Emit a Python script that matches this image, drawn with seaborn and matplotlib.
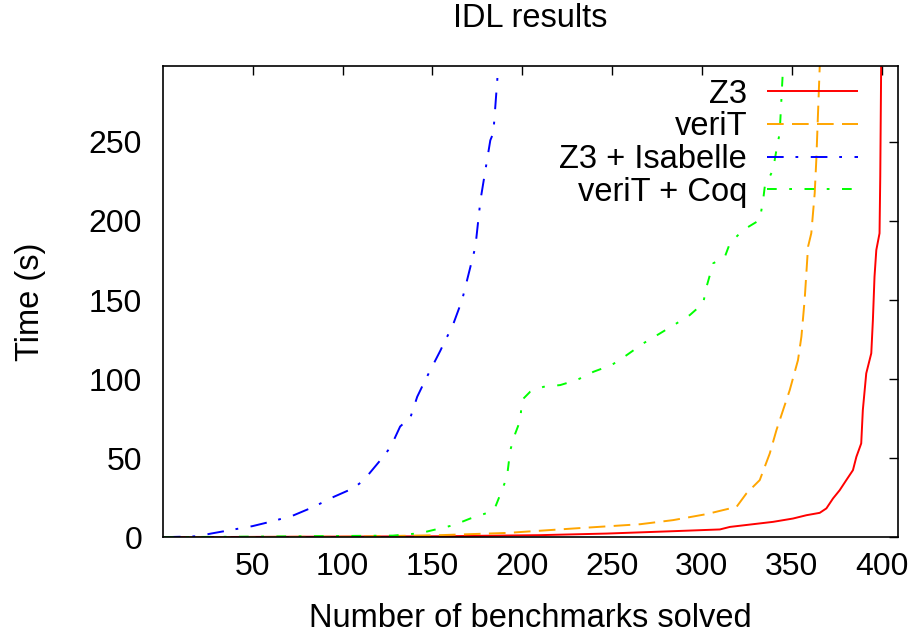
import matplotlib
matplotlib.use('Agg')
import matplotlib.pyplot as plt
import seaborn as sns
import pandas as pd
import numpy as np


# ---------------------------------------------------------------------------
# Data (cumulative: benchmarks solved vs time)
# ---------------------------------------------------------------------------

z3_solved = [0.5, 154.4, 210, 247, 284, 310, 315.6, 339.6, 350.7, 358.2, 365.6,
             369.3, 373, 376.7, 380.4, 384.1, 386, 388.7, 389.6, 391.5, 394.3,
             395.2, 396.1, 397.1, 398.9, 399.3, 399.8, 400]
z3_time = [0, 0.6, 1.3, 2.3, 3.8, 4.9, 6.5, 9.7, 11.8, 13.9, 15.4,
           18.2, 24.5, 29.7, 36.1, 42.4, 50.8, 59.3, 80.4, 103.6, 116.3,
           137.3, 164.7, 181.6, 192.2, 228, 297.7, 310]

verit_solved = [0.5, 104.4, 154.4, 191.5, 228.5, 265.6, 284, 302.6, 319.3, 324.8,
                332.2, 337.8, 341.5, 345.2, 348.9, 353.5, 355.4, 357.2, 359.1,
                360.9, 362.8, 363.7, 365.6, 366]
verit_time = [0, 0.3, 1.3, 2.7, 5.5, 8.2, 10.8, 14.6, 19.2, 27.7,
              36.1, 53, 67.7, 80.4, 93, 112, 126.8, 150, 183.7,
              192.2, 217.5, 238.6, 297.7, 310]

isa_solved = [0.5, 19.4, 26.7, 49.8, 61.7, 72.8, 83.9, 95, 106, 111.7, 121, 126.7,
              132, 137.8, 141.5, 146, 154.4, 157.2, 161, 166.5, 172, 173.9,
              176.7, 180.4, 182.2, 183.9, 186.7, 188]
isa_time = [0, 0.6, 2.3, 7.0, 10.3, 13.9, 19.2, 25.5, 31, 36, 48.7, 57,
            70, 76, 88.8, 99.4, 118, 124.7, 133, 150, 175, 183.7,
            213, 238.6, 251, 255.7, 298.7, 310]

coq_solved = [0.5, 128, 143, 161.7, 171, 182.2, 185, 188.7, 191.5, 193.3, 196.1,
              198.9, 199.8, 204.4, 211.8, 221.1, 230.4, 239.6, 249.8, 258.2,
              267.4, 276.7, 286, 293.3, 300.7, 302.6, 306.3, 312.8, 315.6, 323,
              332.2, 334.1, 335, 339.6, 341.5, 343.3, 345.2, 345.8]
coq_time = [0, 1, 2.5, 7.6, 11.8, 16, 19.2, 29.7, 38.2, 55, 65.6,
            74, 86.7, 92, 95.1, 96.2, 99.4, 104.6, 108.9, 115.2,
            122.6, 128.9, 135.3, 140.5, 147.9, 158.4, 173.2, 177.4, 185.9, 194.3,
            200.6, 213.3, 221.7, 232.3, 244.9, 255.5, 297.7, 308]

labels = ["Z3", "veriT", "Z3 + Isabelle", "veriT + Coq"]
colors = ["#ff0000", "#ffa500", "#0000ff", "#00ff00"]

x_ticks = [50, 100, 150, 200, 250, 300, 350, 400]
y_ticks = [0, 50, 100, 150, 200, 250]


# ---------------------------------------------------------------------------
# Style
# ---------------------------------------------------------------------------

sns.set_style("white")
plt.rcParams["font.family"] = ["Liberation Sans", "DejaVu Sans"]
plt.rcParams["font.size"] = 23.5
plt.rcParams["text.color"] = "black"
plt.rcParams["axes.labelcolor"] = "black"
plt.rcParams["xtick.color"] = "black"
plt.rcParams["ytick.color"] = "black"
plt.rcParams["lines.scale_dashes"] = False

styles = [
    (0, ()),                       # solid
    (0, (12, 6)),                  # dashed
    (0, (12, 8.5, 2, 9)),          # dash-dot
    (0, (7, 9, 2, 9)),             # short dash-dot
]

series = [
    (z3_solved, z3_time),
    (verit_solved, verit_time),
    (isa_solved, isa_time),
    (coq_solved, coq_time),
]

fig = plt.figure(figsize=(9.16, 6.38), dpi=100)
ax = fig.add_axes([0.178, 0.158, 0.802, 0.7386])

for (xs, ys), lab, col, ls in zip(series, labels, colors, styles):
    df = pd.DataFrame({"solved": xs, "time": ys})
    sns.lineplot(data=df, x="solved", y="time", ax=ax, color=col,
                 linewidth=1.4, linestyle=ls, label=lab)

ax.set_xlim(0, 409)
ax.set_ylim(0, 298)
ax.set_xticks(x_ticks)
ax.set_yticks(y_ticks)
ax.tick_params(direction="in", length=6.5, width=1, top=True, right=True,
               labelsize=23)
ax.tick_params(axis="x", pad=11)
ax.tick_params(axis="y", pad=15)

for sp in ax.spines.values():
    sp.set_visible(True)
    sp.set_color("black")
    sp.set_linewidth(1.2)

ax.set_title("IDL results", fontsize=23.5, pad=28)
ax.set_xlabel("Number of benchmarks solved", fontsize=23.5, labelpad=15)
ax.set_ylabel("Time (s)", fontsize=23.5, labelpad=31)

ax.legend(loc="upper right", bbox_to_anchor=(0.946, 0.973), frameon=False,
          markerfirst=False, handlelength=2.8, handletextpad=0.6,
          labelspacing=0.05, borderaxespad=0, borderpad=0, fontsize=23.5)

fig.savefig("out.png", dpi=100)
plt.close()
